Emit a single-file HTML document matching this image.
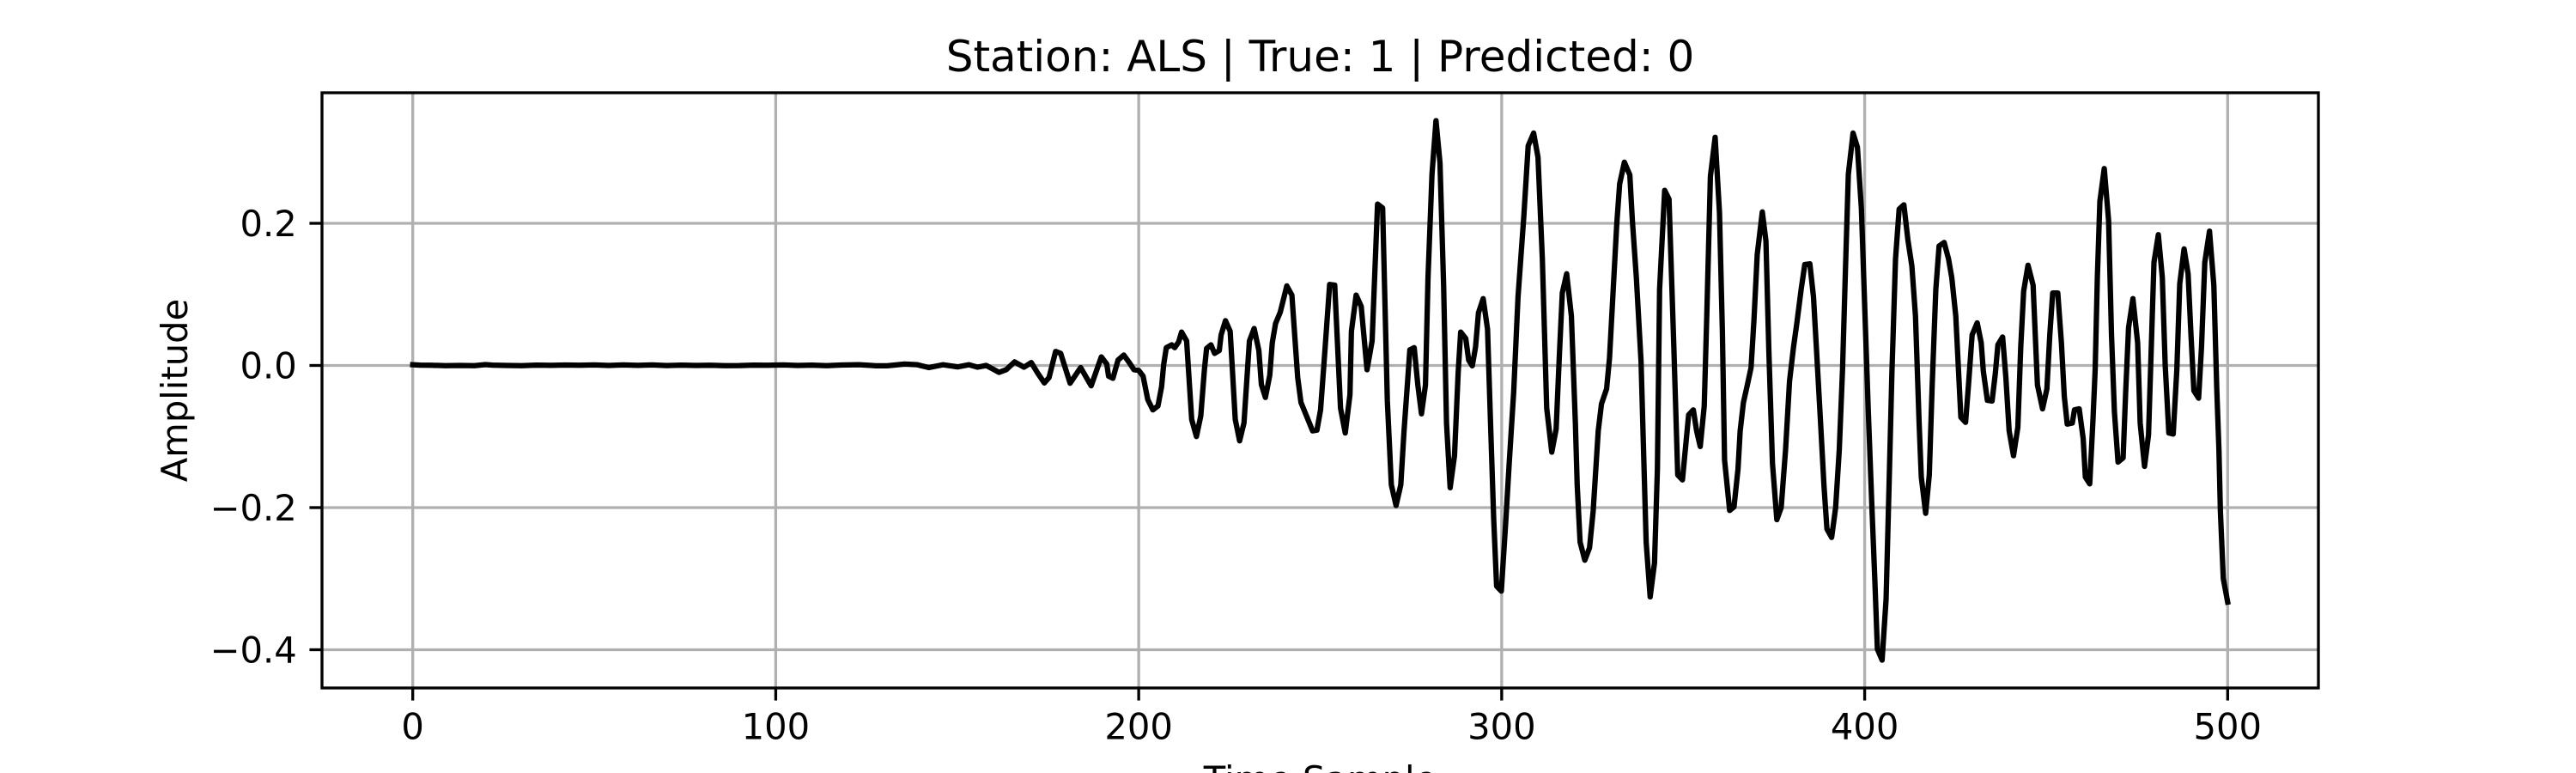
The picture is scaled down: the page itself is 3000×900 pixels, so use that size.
<!DOCTYPE html>
<html lang="en">
<head>
<meta charset="utf-8">
<title>Station: ALS | True: 1 | Predicted: 0</title>
<style>
  html, body { margin: 0; padding: 0; background: #fff; }
  body { width: 3000px; height: 900px; overflow: hidden; }
  svg { display: block; }
  text { font-family: "DejaVu Sans", "Liberation Sans", sans-serif; fill: #000; }
</style>
</head>
<body>
<svg id="chart" xmlns="http://www.w3.org/2000/svg" width="3000" height="900" viewBox="0 0 3000 900">
  <rect x="0" y="0" width="3000" height="900" fill="#ffffff"/>
  <g id="grid"></g>
  <path id="trace" fill="none" stroke="#000" stroke-width="6.25" stroke-linejoin="round" stroke-linecap="square"></path>
  <rect x="375" y="108" width="2325" height="693" fill="none" stroke="#000" stroke-width="3.33"/>
  <g id="ticks"></g>
  <text x="1537.5" y="83" font-size="50" text-anchor="middle">Station: ALS | True: 1 | Predicted: 0</text>
  <text transform="translate(218 454.5) rotate(-90)" font-size="41.67" text-anchor="middle">Amplitude</text>
  <text x="1537.5" y="922" font-size="41.67" text-anchor="middle">Time Sample</text>
</svg>
<script>
const xTicks = [0, 100, 200, 300, 400, 500];
const yTicks = [-0.4, -0.2, 0.0, 0.2];
const yTickLabels = ["\u22120.4", "\u22120.2", "0.0", "0.2"];
const xDomain = [-25, 525];
const yDomain = [-0.4538, 0.3837];

const sampleTimes = [
  0,2,5,9,13,17,20,22,26,30,
  34,38,42,46,50,54,58,62,66,70,
  74,78,82,86,90,94,98,102,106,110,
  114,118,122.9,127.6,130.7,135.5,139,142.2,146.1,150.1,
  153.2,155.6,158,161.5,163.5,165.8,168.4,170.4,172.2,174,
  175.3,177.1,178.5,181.1,184,186.9,189.7,191.2,191.7,192.9,
  194.3,195.9,197.4,198.7,200,201.2,202.5,203.9,205.3,206.3,
  206.9,207.6,209.1,209.9,211,211.8,213.2,214.6,215.9,217.1,
  218.1,218.7,219.9,220.9,222.2,222.7,223.9,225.2,226.6,227.8,
  229,230.5,231.8,233.1,233.8,234.9,236.1,236.8,237.7,239,
  240.8,242.2,243.8,244.7,247.9,249.1,250.1,251.3,252.6,254,
  255.6,256.9,258.2,258.6,259.9,261.3,262.9,264.3,265.8,267.2,
  268.5,269.6,270.9,272.2,273.1,274.7,275.9,276.9,277.9,279,
  279.7,280.8,281.9,283,284,284.8,285.8,287,288,288.7,
  290.1,290.9,291.9,292.8,293.6,294.9,296.1,297,297.8,298.6,
  299.9,301.1,302.1,303.3,304.5,306.1,307.3,308.8,310,311.2,
  312.4,313.8,315,315.9,316.7,317.9,319.2,320.3,320.8,321.6,
  322.9,324.2,325.2,326.6,327.5,328.9,329.7,330.5,331.7,332.5,
  333.8,335.3,336,337.1,338.4,339.2,339.8,340.9,342.1,342.9,
  343.5,344.9,346.1,347.4,348.5,349.8,351.5,352.8,353.7,354.7,
  355.8,356.5,357.5,358.8,360,360.8,361.4,362.8,364,365.1,
  365.7,366.6,367.7,368.7,369.5,370.4,371.8,372.8,373.6,374.6,
  375.8,377,378.2,379.3,380.4,381.3,382.5,383.5,384.9,385.9,
  386.8,387.8,388.8,389.6,390.9,392,393,393.9,394.7,395.5,
  396.8,398,399.1,400.1,401,402,402.8,403.5,404.8,405.9,
  406.7,407.5,408.5,409.5,410.8,411.9,413,414,415,415.6,
  416.8,417.8,418.6,419.6,420.5,421.9,423.1,424,425.1,426.5,
  427.8,428.6,429.6,431,432.1,432.7,433.8,435.1,436,436.7,
  438,438.9,439.8,441,442.2,443,443.8,445,446.4,447.6,
  449,450.2,451,451.8,453.2,454.2,455,455.8,457.2,457.8,
  459.1,460.2,460.8,462,462.9,463.5,464.1,464.8,466,467.2,
  468,468.8,469.8,471.2,471.9,472.7,473.9,475.2,475.9,477.1,
  478.2,478.9,479.7,480.9,482,482.8,483.8,485,486,486.8,
  488,489.1,489.9,490.7,492,492.8,493.7,495,496.2,497,
  497.6,498,498.8,500
];

const amplitudes = [
  .001,.0005,.0003,-.0003,0,-.0003,.0012,.0005,0,-.0003,
  .0005,.0002,.0006,.0003,.0008,0,.0008,.0002,.0007,-.0001,
  .0005,0,.0003,-.0003,-.0002,.0005,.0003,.0008,0,.0005,
  -.0003,.0006,.001,-.0004,-.0004,.002,.001,-.003,.001,-.002,
  .001,-.0024,0,-.0097,-.006,.005,-.0024,.004,-.011,-.0246,
  -.017,.0197,.017,-.025,-.003,-.0286,.012,.002,-.015,-.018,
  .0075,.0146,.004,-.006,-.007,-.015,-.048,-.0625,-.057,-.03,
  .002,.025,.029,.025,.033,.047,.0345,-.076,-.1,-.071,
  -.006,.024,.029,.017,.021,.043,.063,.048,-.076,-.106,
  -.081,.0345,.052,.021,-.027,-.045,-.014,.032,.059,.075,
  .112,.099,-.017,-.052,-.092,-.091,-.0625,.021,.114,.113,
  -.06,-.095,-.041,.048,.099,.083,-.006,.0345,.227,.2216,
  -.05,-.168,-.197,-.168,-.092,.022,.025,-.0275,-.068,-.0275,
  .1235,.269,.3445,.285,.113,-.081,-.172,-.127,-.011,.047,
  .038,.0075,-.0005,.026,.074,.094,.051,-.092,-.216,-.3105,
  -.3175,-.2216,-.135,-.038,.0965,.21,.309,.327,.293,.15,
  -.06,-.122,-.0895,.0156,.102,.129,.0695,-.081,-.168,-.2485,
  -.274,-.2566,-.205,-.092,-.054,-.033,.01,.0857,.199,.2555,
  .286,.268,.204,.1235,.005,-.141,-.2485,-.3256,-.278,-.146,
  .107,.2464,.234,.03,-.154,-.161,-.0695,-.0625,-.092,-.114,
  -.057,.0695,.266,.321,.215,.048,-.133,-.204,-.199,-.146,
  -.092,-.052,-.027,-.003,.064,.156,.216,.175,.021,-.138,
  -.217,-.2,-.119,-.022,.026,.059,.107,.142,.143,.0965,
  .0156,-.076,-.17,-.23,-.242,-.2,-.119,-.006,.134,.269,
  .327,.307,.22,.0695,-.065,-.2,-.302,-.399,-.4146,-.329,
  -.173,-.011,.15,.22,.226,.177,.14,.0695,-.081,-.157,
  -.208,-.154,-.0275,.107,.168,.173,.15,.1235,.0695,-.073,
  -.08,-.0275,.043,.06,.032,-.0086,-.049,-.05,-.011,.029,
  .04,-.0167,-.092,-.127,-.087,.026,.1046,.141,.113,-.0275,
  -.061,-.033,.043,.102,.102,.032,-.0437,-.0825,-.081,-.0625,
  -.061,-.103,-.157,-.1666,-.076,-.006,.1235,.231,.277,.204,
  .043,-.065,-.136,-.13,-.038,.053,.094,.032,-.081,-.142,
  -.0976,.0156,.145,.184,.1235,-.0005,-.095,-.0965,-.006,.115,
  .164,.129,.043,-.0356,-.046,.026,.145,.189,.1127,-.033,
  -.119,-.205,-.3,-.333
];

const plotLeft = 375, plotRight = 2700, plotTop = 108, plotBottom = 801;
const SVG_NS = "http://www.w3.org/2000/svg";

function xScale(t) {
  return plotLeft + (t - xDomain[0]) / (xDomain[1] - xDomain[0]) * (plotRight - plotLeft);
}
function yScale(a) {
  return plotBottom - (a - yDomain[0]) / (yDomain[1] - yDomain[0]) * (plotBottom - plotTop);
}
function makeLine(x1, y1, x2, y2, color) {
  const l = document.createElementNS(SVG_NS, "line");
  l.setAttribute("x1", x1);
  l.setAttribute("y1", y1);
  l.setAttribute("x2", x2);
  l.setAttribute("y2", y2);
  l.setAttribute("stroke", color);
  l.setAttribute("stroke-width", "3.33");
  return l;
}

const gridGroup = document.getElementById("grid");
const tickGroup = document.getElementById("ticks");

xTicks.forEach(function (v) {
  const x = xScale(v);
  const g = makeLine(x, plotTop, x, plotBottom, "#b0b0b0");
  
  
  gridGroup.appendChild(g);
  const t = makeLine(x, plotBottom, x, plotBottom + 14.58, "#000");
  
  
  tickGroup.appendChild(t);
  const label = document.createElementNS(SVG_NS, "text");
  
  
  label.setAttribute("x", x);
  label.setAttribute("y", 860.6);
  label.setAttribute("font-size", "41.67");
  label.setAttribute("text-anchor", "middle");
  label.textContent = String(v);
  tickGroup.appendChild(label);
});

yTicks.forEach(function (v, i) {
  const y = yScale(v);
  const g = makeLine(plotLeft, y, plotRight, y, "#b0b0b0");
  
  
  gridGroup.appendChild(g);
  const t = makeLine(plotLeft - 14.58, y, plotLeft, y, "#000");
  
  
  tickGroup.appendChild(t);
  const label = document.createElementNS(SVG_NS, "text");
  
  
  label.setAttribute("x", plotLeft - 29.2);
  label.setAttribute("y", y + 15.2);
  label.setAttribute("font-size", "41.67");
  label.setAttribute("text-anchor", "end");
  label.textContent = yTickLabels[i];
  tickGroup.appendChild(label);
});

const pointCount = Math.min(sampleTimes.length, amplitudes.length);
let tracePath = "";
for (let i = 0; i < pointCount; i++) {
  tracePath += (i ? "L" : "M") + xScale(sampleTimes[i]).toFixed(2) + " " + yScale(amplitudes[i]).toFixed(2);
}
document.getElementById("trace").setAttribute("d", tracePath);
</script>
</body>
</html>
